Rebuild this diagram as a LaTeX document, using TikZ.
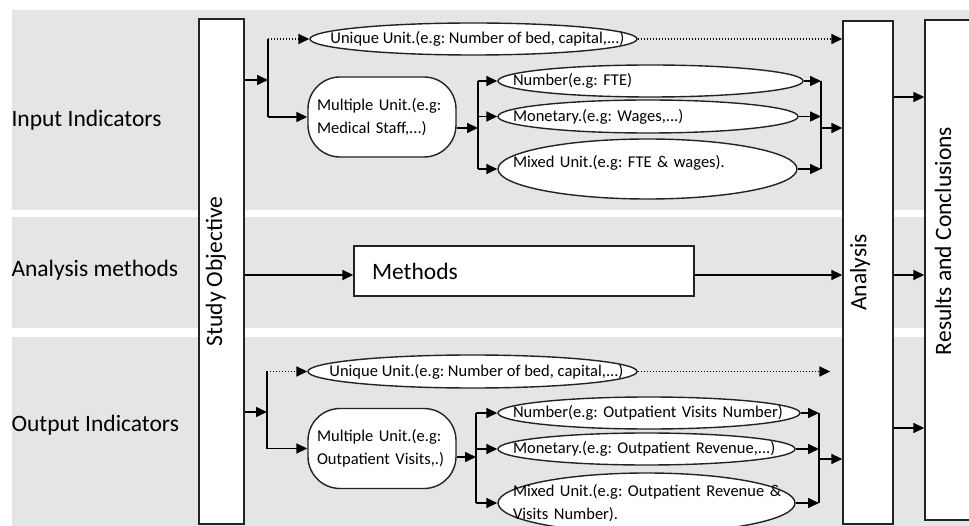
\documentclass[tikz,border=0pt]{standalone}
\usepackage{fontspec}
\setmainfont{Carlito}
\usetikzlibrary{shapes.geometric, arrows.meta, positioning, calc}
\definecolor{bandgray}{RGB}{228,229,229}
\definecolor{edgegray}{RGB}{35,35,35}
\frenchspacing

\begin{document}
\begin{tikzpicture}[
    x=1pt, y=-1pt,
    band/.style={fill=bandgray, draw=none},
    tallbox/.style={rectangle, draw=edgegray, fill=white, line width=1.4pt, inner sep=0pt, font=\fontsize{23.5}{27}\selectfont},
    unit/.style={ellipse, draw=edgegray, fill=white, line width=1.4pt, inner xsep=-45pt, inner ysep=0pt, font=\fontsize{16.5}{22.5}\selectfont},
    multi/.style={rectangle, rounded corners=32pt, draw=edgegray, fill=white, line width=1.4pt, minimum width=148pt, minimum height=80pt, text width=130pt, inner xsep=9pt, align=left, font=\fontsize{16.5}{22.5}\selectfont},
    arrow/.style={-{Triangle[length=11pt, width=10pt]}, line width=1.6pt},
    dotarrow/.style={arrow, dash pattern=on 1.4pt off 1.6pt},
    bus/.style={line width=1.6pt},
    rowlabel/.style={anchor=west, font=\fontsize{23.5}{27}\selectfont}
]
    \useasboundingbox (0,0) rectangle (969,526);
    \fill[white] (0,0) rectangle (969,526);

    % Background bands
    \fill[band] (12,10) rectangle (969,210);
    \fill[band] (12,217) rectangle (969,328);
    \fill[band] (12,337) rectangle (969,526);

    % Row labels
    \node[rowlabel] (lblIn) at (8,120) {Input Indicators};
    \node[rowlabel] (lblMeth) at (8,270) {Analysis methods};
    \node[rowlabel] (lblOut) at (8,425) {Output Indicators};

    % Tall boxes
    \node[tallbox, minimum width=45pt, minimum height=505pt] (study) at (221.5,271.5) {\rotatebox{90}{Study Objective}\kern11pt};
    \node[tallbox, minimum width=50pt, minimum height=503pt] (analysis) at (868,272.5) {\rotatebox{90}{Analysis}\kern16pt};
    \node[tallbox, minimum width=55pt, minimum height=500pt] (results) at (952.5,270) {\rotatebox{90}{\kern58pt Results and Conclusions}\kern19pt};

    % Methods
    \node[tallbox, minimum width=340pt, minimum height=50pt, text width=304pt, inner xsep=18pt, align=left] (methods) at (524,271) {Methods};

    % Input section
    \node[unit, minimum width=327pt, minimum height=32pt] (uniqIn) at (473.5,39) {\kern8pt Unique Unit.(e.g: Number of bed, capital,...)};
    \node[multi] (multIn) at (382,117) {\mbox{Multiple Unit.(e.g:}\\\mbox{Medical Staff,...)}};
    \node[unit, minimum width=305pt, minimum height=32pt, text width=275pt, align=left] (numIn) at (650.5,81) {Number(e.g: FTE)};
    \node[unit, minimum width=300pt, minimum height=33pt, text width=270pt, align=left] (monIn) at (648,116.5) {Monetary.(e.g: Wages,...)};
    \node[unit, minimum width=299pt, minimum height=60pt, text width=269pt, align=left, text depth=16pt] (mixIn) at (647.5,169) {Mixed Unit.(e.g: FTE \& wages).};

    % Output section
    \node[unit, minimum width=329pt, minimum height=33pt] (uniqOut) at (472.5,371.5) {\kern8pt Unique Unit.(e.g: Number of bed, capital,...)};
    \node[multi] (multOut) at (382,448.5) {\mbox{Multiple Unit.(e.g:}\\\mbox{Outpatient Visits,.)}};
    \node[unit, minimum width=302pt, minimum height=32pt, text width=272pt, align=left] (numOut) at (649,413) {\mbox{Number(e.g: Outpatient Visits Number)}};
    \node[unit, minimum width=297pt, minimum height=32pt, text width=267pt, align=left] (monOut) at (646.5,449) {\mbox{Monetary.(e.g: Outpatient Revenue,...)}};
    \node[unit, minimum width=297pt, minimum height=60pt, text width=267pt, align=left] (mixOut) at (646.5,503) {\mbox{Mixed Unit.(e.g: Outpatient Revenue \&}\\Visits Number).};

    % Junctions
    \coordinate (jIn) at (268,80);
    \coordinate (kIn) at (478,128);
    \coordinate (bIn) at (821,128);
    \coordinate (jOut) at (267,412);
    \coordinate (kOut) at (476,457);
    \coordinate (bOut) at (819,459);
    \coordinate (mrow) at (0,275);

    % Input connections
    \draw[arrow] (study.east |- jIn) -- (jIn);
    \draw[bus] (jIn |- uniqIn.west) -- (jIn |- multIn.west);
    \draw[dotarrow] (jIn |- uniqIn.west) -- (uniqIn.west);
    \draw[arrow] (jIn |- multIn.west) -- (multIn.west);
    \draw[dotarrow] (uniqIn.east) -- (uniqIn.east -| analysis.west);
    \draw[arrow] (multIn.east |- kIn) -- (kIn);
    \draw[bus] (kIn |- numIn.west) -- (kIn |- mixIn.west);
    \draw[arrow] (kIn |- numIn.west) -- (numIn.west);
    \draw[arrow] (kIn |- monIn.west) -- (monIn.west);
    \draw[arrow] (kIn |- mixIn.west) -- (mixIn.west);
    \draw[arrow] (numIn.east) -- (numIn.east -| bIn);
    \draw[arrow] (monIn.east) -- (monIn.east -| bIn);
    \draw[arrow] (mixIn.east) -- (mixIn.east -| bIn);
    \draw[bus] (bIn |- numIn.east) -- (bIn |- mixIn.east);
    \draw[arrow] (bIn) -- (bIn -| analysis.west);

    % Methods connections
    \draw[arrow] (study.east |- mrow) -- (methods.west |- mrow);
    \draw[arrow] (methods.east |- mrow) -- (analysis.west |- mrow);

    % Output connections
    \draw[arrow] (study.east |- jOut) -- (jOut);
    \draw[bus] (jOut |- uniqOut.west) -- (jOut |- multOut.west);
    \draw[dotarrow] (jOut |- uniqOut.west) -- (uniqOut.west);
    \draw[arrow] (jOut |- multOut.west) -- (multOut.west);
    \draw[dotarrow, shorten >=12pt] (uniqOut.east) -- (uniqOut.east -| analysis.west);
    \draw[arrow] (multOut.east |- kOut) -- (kOut);
    \draw[bus] (kOut |- numOut.west) -- (kOut |- mixOut.west);
    \draw[arrow] (kOut |- numOut.west) -- (numOut.west);
    \draw[arrow] (kOut |- monOut.west) -- (monOut.west);
    \draw[arrow] (kOut |- mixOut.west) -- (mixOut.west);
    \draw[arrow] (numOut.east) -- (numOut.east -| bOut);
    \draw[arrow] (monOut.east) -- (monOut.east -| bOut);
    \draw[arrow] (mixOut.east) -- (mixOut.east -| bOut);
    \draw[bus] (bOut |- numOut.east) -- (bOut |- mixOut.east);
    \draw[arrow] (bOut) -- (bOut -| analysis.west);

    % Results connections
    \foreach \yy in {97, 275, 428}
        \draw[arrow] (analysis.east |- 0,\yy) -- (results.west |- 0,\yy);
\end{tikzpicture}
\end{document}
